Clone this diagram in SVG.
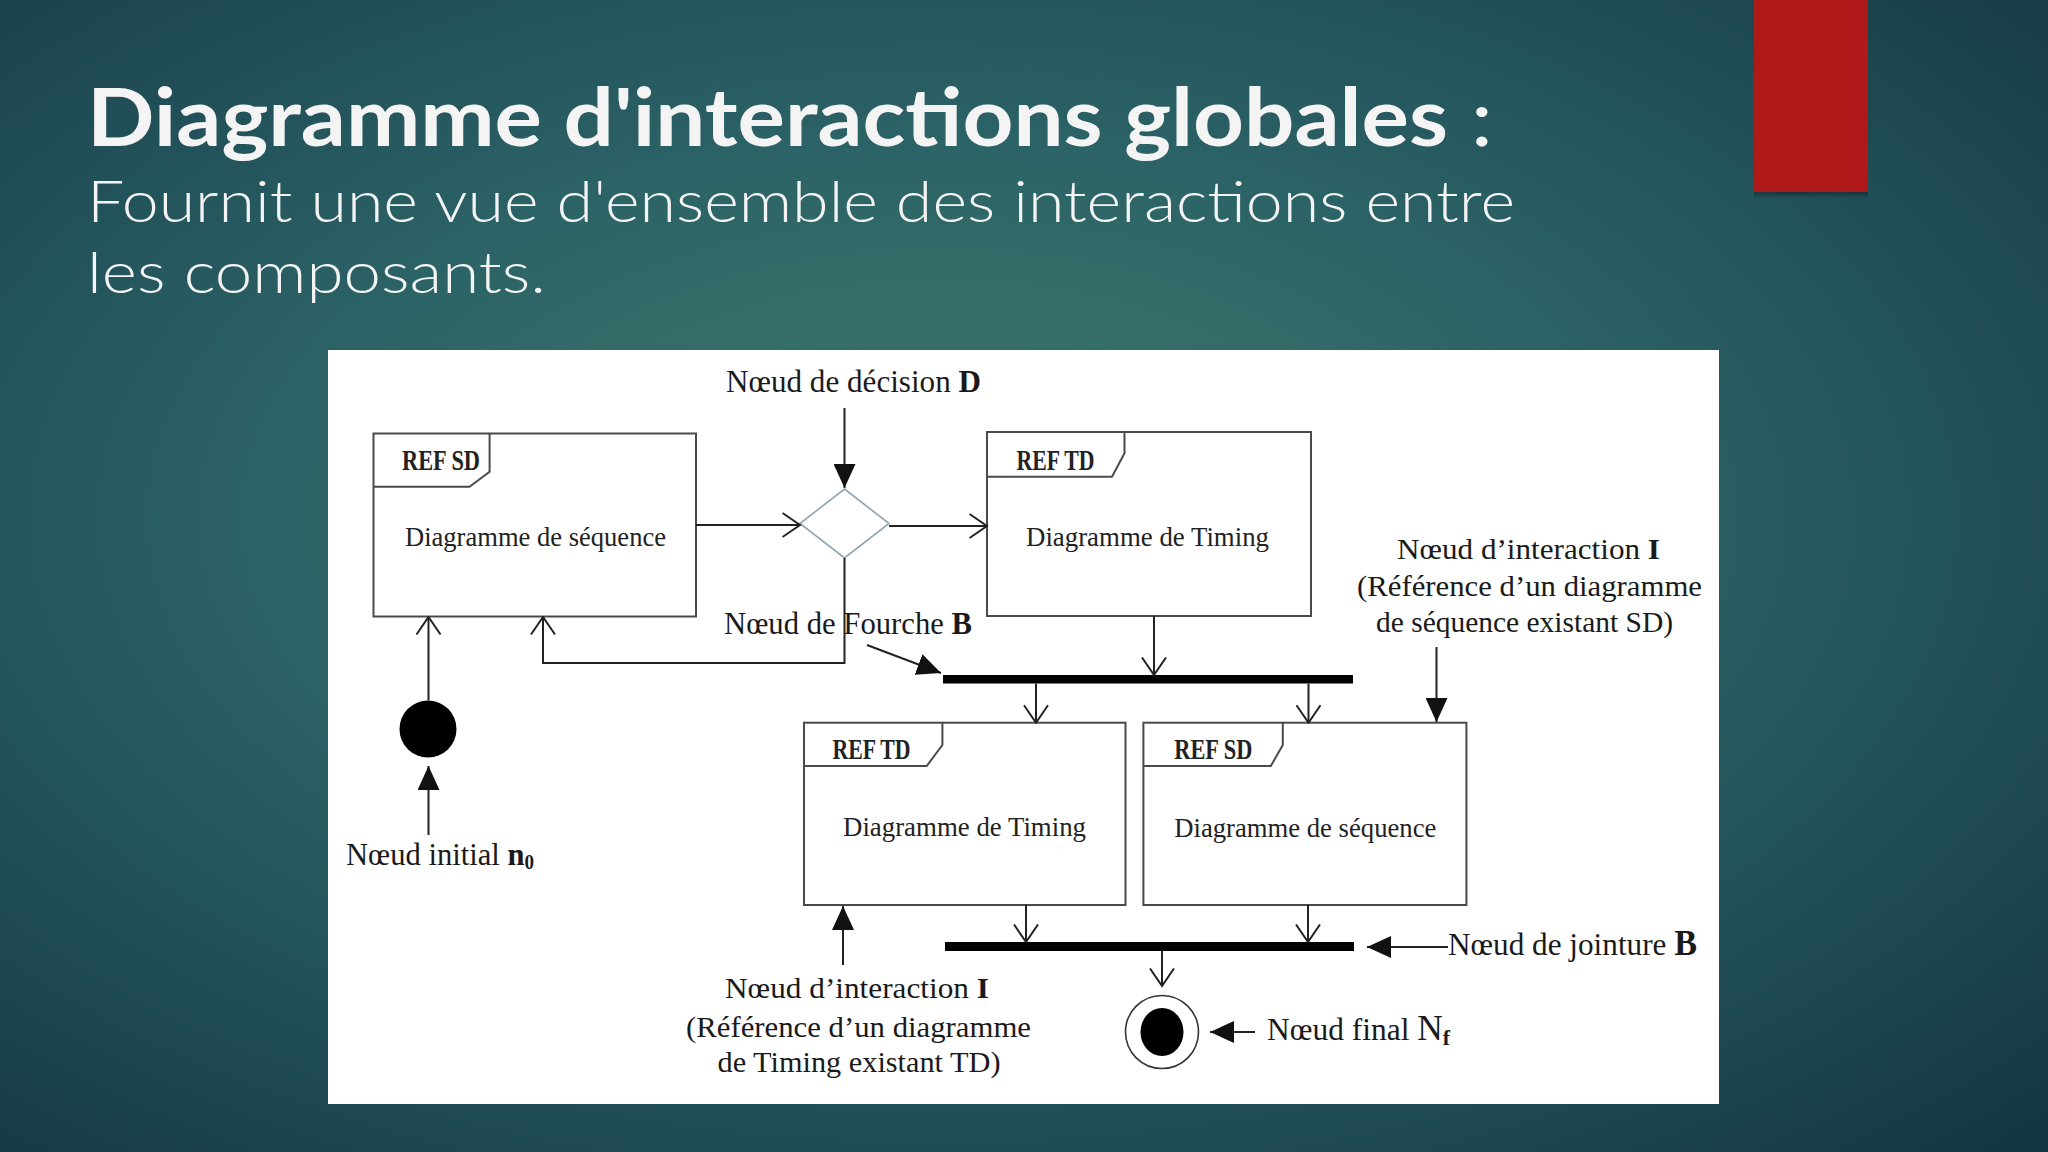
<svg xmlns="http://www.w3.org/2000/svg" width="2048" height="1152" viewBox="0 0 2048 1152">
<defs>
<radialGradient id="bg" cx="0.46" cy="0.45" r="0.75">
<stop offset="0" stop-color="#3e7a6b"/>
<stop offset="0.45" stop-color="#2b6266"/>
<stop offset="1" stop-color="#143745"/>
</radialGradient>
<marker id="open" markerUnits="userSpaceOnUse" viewBox="0 0 20 26" markerWidth="20" markerHeight="26" refX="18.5" refY="13" orient="auto">
<path d="M1,1 L18.5,13 L1,25" fill="none" stroke="#222" stroke-width="2"/>
</marker>
<marker id="fill" markerUnits="userSpaceOnUse" viewBox="0 0 24 22" markerWidth="24" markerHeight="22" refX="24" refY="11" orient="auto">
<path d="M0,0 L24,11 L0,22 Z" fill="#111"/>
</marker>
<linearGradient id="shadow" x1="0" y1="0" x2="0" y2="1">
<stop offset="0" stop-color="#000" stop-opacity="0.35"/>
<stop offset="1" stop-color="#000" stop-opacity="0"/>
</linearGradient>
</defs>
<style>
.title{font-family:Lato,"Open Sans","Liberation Sans",sans-serif;fill:#f4f4f4}
.box{fill:#fff;stroke:#4a4a4a;stroke-width:2}
.tab{fill:none;stroke:#4a4a4a;stroke-width:2}
.ref{font-family:"Liberation Serif",serif;font-weight:bold;font-size:30px;fill:#222}
.lbl{font-family:"Liberation Serif",serif;font-size:28px;fill:#222}
.ann{font-family:"Liberation Serif",serif;font-size:32px;fill:#1a1a1a}
.ann2{font-family:"Liberation Serif",serif;font-size:30px;fill:#1a1a1a}
.b{font-weight:bold}
.con{fill:none;stroke:#222;stroke-width:2}
.oa{marker-end:url(#open)}
.fa{marker-end:url(#fill)}
.bar{fill:#000}
</style>
<rect x="0" y="0" width="2048" height="1152" fill="url(#bg)"/>
<rect x="1754" y="192" width="114" height="6" fill="url(#shadow)"/>
<rect x="1754" y="0" width="114" height="192" fill="#b01919"/>

<text class="title" x="87" y="146" font-size="80" font-weight="bold" textLength="1406" lengthAdjust="spacingAndGlyphs">Diagramme d'interactions globales<tspan font-weight="normal"> :</tspan></text>
<text class="title" x="87" y="222" font-size="58" font-weight="300" textLength="1428" lengthAdjust="spacingAndGlyphs">Fournit une vue d'ensemble des interactions entre</text>
<text class="title" x="87" y="293" font-size="58" font-weight="300" textLength="459" lengthAdjust="spacingAndGlyphs">les composants.</text>

<rect x="328" y="350" width="1391" height="754" fill="#fff"/>

<g id="box-sd1">
<rect class="box" x="373.5" y="433.5" width="322.5" height="183"/>
<path class="tab" d="M373.5,486.7 H469.5 L489.6,471.7 V433.5"/>
<text class="ref" x="402" y="470" textLength="78" lengthAdjust="spacingAndGlyphs">REF SD</text>
<text class="lbl" x="405" y="546" textLength="261" lengthAdjust="spacingAndGlyphs">Diagramme de séquence</text>
</g>
<g id="box-td1">
<rect class="box" x="987" y="432" width="324" height="184"/>
<path class="tab" d="M987,476.7 H1112 L1124.5,453.3 V432"/>
<text class="ref" x="1016.5" y="470" textLength="78" lengthAdjust="spacingAndGlyphs">REF TD</text>
<text class="lbl" x="1026" y="546" textLength="243" lengthAdjust="spacingAndGlyphs">Diagramme de Timing</text>
</g>
<g id="box-td2">
<rect class="box" x="804" y="722.7" width="321.5" height="182.3"/>
<path class="tab" d="M804,766 H926.7 L942.4,745 V722.7"/>
<text class="ref" x="832.5" y="759.3" textLength="78" lengthAdjust="spacingAndGlyphs">REF TD</text>
<text class="lbl" x="843" y="836" textLength="243" lengthAdjust="spacingAndGlyphs">Diagramme de Timing</text>
</g>
<g id="box-sd2">
<rect class="box" x="1143.4" y="722.7" width="323" height="182.3"/>
<path class="tab" d="M1143.4,766 H1270.8 L1282.8,745 V722.7"/>
<text class="ref" x="1174.3" y="759.3" textLength="78" lengthAdjust="spacingAndGlyphs">REF SD</text>
<text class="lbl" x="1174.3" y="837" textLength="262" lengthAdjust="spacingAndGlyphs">Diagramme de séquence</text>
</g>
<g id="decision">
<polygon points="844.5,489 889,523.5 844.5,558 800,523.5" fill="#fff" stroke="#8ea3b4" stroke-width="1.6"/>
</g>
<g id="initial">
<circle cx="428" cy="729" r="28.5" fill="#000"/>
</g>
<g id="fork">
<rect class="bar" x="943" y="675" width="410" height="8.5"/>
</g>
<g id="join">
<rect class="bar" x="945" y="942" width="409" height="9"/>
</g>
<g id="final">
<circle cx="1162" cy="1032" r="36.5" fill="#fff" stroke="#333" stroke-width="1.6"/>
<ellipse cx="1162" cy="1032" rx="21.5" ry="24" fill="#000"/>
</g>

<g id="connectors">
<path class="con oa" d="M696,525 H800"/>
<path class="con oa" d="M889,526 H987"/>
<path class="con oa" d="M844.5,558 V663 H543 V617"/>
<path class="con oa" d="M428.5,700.5 V617"/>
<path class="con oa" d="M1154,616 V675"/>
<path class="con oa" d="M1036,683.5 V722.7"/>
<path class="con oa" d="M1308.5,683.5 V722.7"/>
<path class="con oa" d="M1026,905 V942"/>
<path class="con oa" d="M1308,905 V942"/>
<path class="con oa" d="M1162,951 V986"/>
<path class="con fa" d="M844.5,408 V488"/>
<path class="con fa" d="M428.5,835 V766"/>
<path class="con fa" d="M867,645 L941,673"/>
<path class="con fa" d="M1436.5,647 V722"/>
<path class="con fa" d="M1448,947 H1367"/>
<path class="con fa" d="M843,965 V906"/>
<path class="con fa" d="M1255,1032 H1210"/>
</g>

<g id="labels">
<text class="ann" x="726" y="392" textLength="255" lengthAdjust="spacingAndGlyphs">Nœud de décision <tspan class="b">D</tspan></text>
<text class="ann" x="724" y="634" textLength="248" lengthAdjust="spacingAndGlyphs">Nœud de Fourche <tspan class="b">B</tspan></text>
<text class="ann2" x="1397" y="559" textLength="263" lengthAdjust="spacingAndGlyphs">Nœud d’interaction <tspan class="b">I</tspan></text>
<text class="ann2" x="1357" y="596" textLength="345" lengthAdjust="spacingAndGlyphs">(Référence d’un diagramme</text>
<text class="ann2" x="1376" y="632" textLength="297" lengthAdjust="spacingAndGlyphs">de séquence existant SD)</text>
<text class="ann" x="346" y="865" textLength="188" lengthAdjust="spacingAndGlyphs">Nœud initial <tspan class="b">n</tspan><tspan class="b" font-size="20" dy="4">0</tspan></text>
<text class="ann2" x="725" y="998" textLength="264" lengthAdjust="spacingAndGlyphs">Nœud d’interaction <tspan class="b">I</tspan></text>
<text class="ann2" x="686" y="1037" textLength="345" lengthAdjust="spacingAndGlyphs">(Référence d’un diagramme</text>
<text class="ann2" x="717.5" y="1072" textLength="283" lengthAdjust="spacingAndGlyphs">de Timing existant TD)</text>
<text class="ann" x="1448" y="955" textLength="249" lengthAdjust="spacingAndGlyphs">Nœud de jointure <tspan class="b" font-size="35">B</tspan></text>
<text class="ann" x="1267" y="1040" textLength="183" lengthAdjust="spacingAndGlyphs">Nœud final <tspan font-size="36">N</tspan><tspan class="b" font-size="22" dy="5">f</tspan></text>
</g>
</svg>
